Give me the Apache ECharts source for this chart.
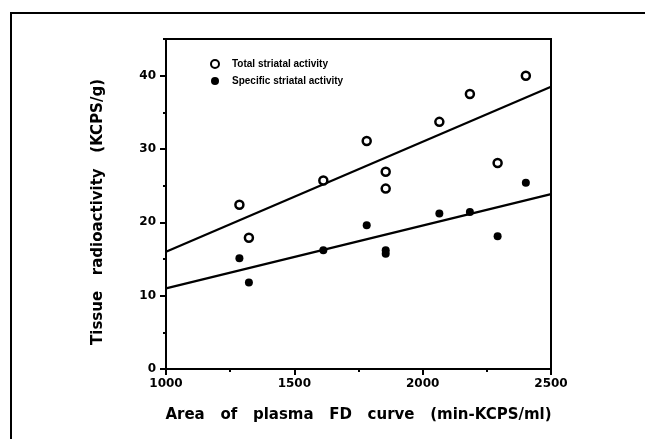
<!DOCTYPE html>
<html lang="en">

<head>
    <meta charset="UTF-8">
    <title>Tissue radioactivity vs plasma FD area</title>
    <style>
        html, body {
            margin: 0;
            padding: 0;
            background: #fff;
        }

        #chart {
            width: 645px;
            height: 439px;
        }
    </style>
</head>

<body>
    <div id="chart"></div>
    <script src="https://cdn.jsdelivr.net/npm/echarts@6/dist/echarts.min.js"></script>
    <script>
        // values
        var totalX = [1286, 1323, 1613, 1782, 1856, 1856, 2065, 2184, 2292, 2402]
        var totalY = [22.4, 17.9, 25.7, 31.1, 26.9, 24.6, 33.7, 37.5, 28.1, 40.0]
        var specificX = [1286, 1323, 1613, 1782, 1856, 1856, 2065, 2184, 2292, 2402]
        var specificY = [15.1, 11.8, 16.2, 19.6, 16.2, 15.7, 21.2, 21.4, 18.1, 25.4]
        // regression line end points
        var lineX = [1000, 2500]
        var totalFit = [16.0, 38.5]
        var specificFit = [11.0, 23.85]
        var xTicks = [1000, 1500, 2000, 2500]
        var yTicks = [0, 10, 20, 30, 40]

        function pairs(xs, ys) {
            var out = []
            for (var i = 0; i < xs.length; i++) out.push([xs[i], ys[i]])
            return out
        }

        var ink = '#000'
        var font = 'DejaVu Sans'

        var chart = echarts.init(document.getElementById('chart'), null, { renderer: 'canvas' })
        chart.setOption({
            animation: false,
            backgroundColor: '#fff',
            graphic: [{
                type: 'rect',
                shape: { x: 11, y: 13, width: 700, height: 500 },
                style: { fill: 'none', stroke: ink, lineWidth: 2 }
            }],
            grid: {
                left: 166, right: 94, top: 39, bottom: 70,
                show: true, borderColor: ink, borderWidth: 2, backgroundColor: 'transparent'
            },
            legend: {
                orient: 'vertical',
                left: 205, top: 54,
                itemWidth: 24, itemHeight: 8, itemGap: 7,
                data: ['Total striatal activity', 'Specific striatal activity'],
                textStyle: { color: ink, fontFamily: 'Liberation Sans', fontWeight: 'bold', fontSize: 10 }
            },
            xAxis: [{
                type: 'value', min: 1000, max: 2500, interval: 250,
                name: 'Area   of   plasma   FD   curve   (min-KCPS/ml)',
                nameLocation: 'middle', nameGap: 39,
                nameTextStyle: { color: ink, fontFamily: font, fontWeight: 'bold', fontSize: 15 },
                axisLine: { lineStyle: { color: ink, width: 2 } },
                axisTick: { length: 3, lineStyle: { color: ink, width: 2 } },
                axisLabel: {
                    color: ink, fontFamily: font, fontWeight: 'bold', fontSize: 12, margin: 9,
                    formatter: function (v) { return xTicks.indexOf(v) >= 0 ? String(v) : '' }
                },
                splitLine: { show: false }
            }, {
                type: 'value', min: 1000, max: 2500, position: 'bottom',
                axisLine: { show: false },
                axisTick: { length: 6, customValues: xTicks, lineStyle: { color: ink, width: 2 } },
                axisLabel: { show: false },
                splitLine: { show: false }
            }],
            yAxis: [{
                type: 'value', min: 0, max: 45, interval: 5,
                name: 'Tissue   radioactivity   (KCPS/g)',
                nameLocation: 'middle', nameGap: 60, nameRotate: 90,
                nameTextStyle: { color: ink, fontFamily: font, fontWeight: 'bold', fontSize: 15, padding: [0, 16, 0, 0] },
                axisLine: { lineStyle: { color: ink, width: 2 } },
                axisTick: { length: 3, lineStyle: { color: ink, width: 2 } },
                axisLabel: {
                    color: ink, fontFamily: font, fontWeight: 'bold', fontSize: 12, margin: 10,
                    formatter: function (v) { return yTicks.indexOf(v) >= 0 ? String(v) : '' }
                },
                splitLine: { show: false }
            }, {
                type: 'value', min: 0, max: 45, position: 'left',
                axisLine: { show: false },
                axisTick: { length: 6, customValues: yTicks, lineStyle: { color: ink, width: 2 } },
                axisLabel: { show: false },
                splitLine: { show: false }
            }],
            series: [{
                name: 'Total striatal activity',
                type: 'scatter',
                symbol: 'circle', symbolSize: 8,
                itemStyle: { color: '#fff', borderColor: ink, borderWidth: 2.5, opacity: 1 },
                data: pairs(totalX, totalY),
                z: 5
            }, {
                name: 'Specific striatal activity',
                type: 'scatter',
                symbol: 'circle', symbolSize: 8,
                itemStyle: { color: ink, opacity: 1 },
                data: pairs(specificX, specificY),
                z: 5
            }, {
                type: 'line',
                data: pairs(lineX, totalFit),
                showSymbol: false,
                lineStyle: { color: ink, width: 2.2 }
            }, {
                type: 'line',
                data: pairs(lineX, specificFit),
                showSymbol: false,
                lineStyle: { color: ink, width: 2.2 }
            }]
        })
    </script>
</body>

</html>
